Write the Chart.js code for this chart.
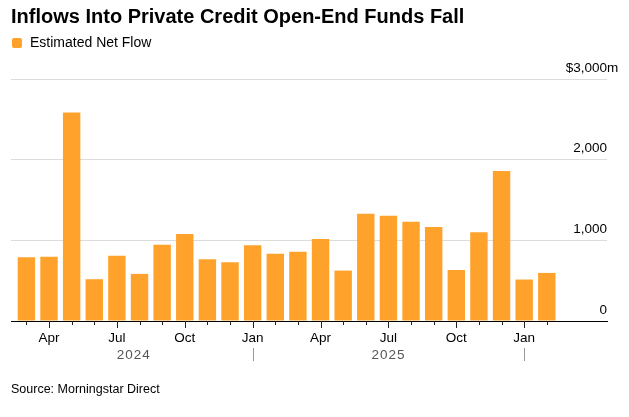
<!DOCTYPE html>
<html>
<head>
<meta charset="utf-8">
<script src="https://cdn.jsdelivr.net/npm/chart.js@4"></script>
<style>
  body { margin: 0; background: #fff; font-family: "Liberation Sans", Arial, sans-serif; }
  #wrap { position: relative; width: 629px; height: 417px; }
  #title { position: absolute; left: 11px; top: 6px; font-size: 20px; line-height: 20px; font-weight: bold; color: #000; white-space: nowrap; }
  #legend { position: absolute; left: 12px; top: 35px; font-size: 14px; line-height: 14px; color: #000; }
  #legend span { display: inline-block; width: 10px; height: 10px; border-radius: 2px; background: #ffa22b; margin-right: 8px; vertical-align: -1px; }
  #source { position: absolute; left: 11px; top: 383px; font-size: 12.5px; line-height: 12.5px; color: #000; }
  canvas { position: absolute; left: 0; top: 0; }
</style>
</head>
<body>
<div id="wrap">
  <canvas id="flowChart" width="629" height="417"></canvas>
  <div id="title">Inflows Into Private Credit Open-End Funds Fall</div>
  <div id="legend"><span></span>Estimated Net Flow</div>
  <div id="source">Source: Morningstar Direct</div>
</div>
<script>
// monthly estimated net flow, $m (Mar 2024 - Feb 2026)
const months = ["2024-03", "2024-04", "2024-05", "2024-06", "2024-07", "2024-08", "2024-09", "2024-10",
  "2024-11", "2024-12", "2025-01", "2025-02", "2025-03", "2025-04", "2025-05", "2025-06", "2025-07",
  "2025-08", "2025-09", "2025-10", "2025-11", "2025-12", "2026-01", "2026-02"];
const netFlow = [790, 797, 2584, 518, 810, 584, 946, 1078, 765, 728, 938, 835,
  860, 1016, 625, 1328, 1304, 1230, 1164, 633, 1099, 1859, 514, 596];
const monthNames = ["Jan", "Feb", "Mar", "Apr", "May", "Jun", "Jul", "Aug", "Sep", "Oct", "Nov", "Dec"];
const labelledMonths = ["Jan", "Apr", "Jul", "Oct"];
const yTicks = [0, 1000, 2000, 3000];

const BAR = "#ffa22b";
const FONT = "Liberation Sans, Arial, sans-serif";

function monthLabel(i) {
    if (i < 0 || i >= months.length || i !== Math.round(i)) return "";
    const name = monthNames[parseInt(months[i].slice(5), 10) - 1];
    return labelledMonths.includes(name) ? name : "";
}

// tick marks, year labels and right-hand value labels
const decor = {
    id: "decor",
    afterDraw(chart) {
        const c = chart.ctx;
        const x = chart.scales.x;
        const y = chart.scales.y;
        const base = chart.chartArea.bottom;
        c.save();

        c.strokeStyle = "#222";
        c.lineWidth = 1;
        months.forEach((m, i) => {
            const px = Math.round(x.getPixelForValue(i)) + 0.5;
            c.beginPath();
            c.moveTo(px, base);
            c.lineTo(px, base + (monthLabel(i) ? 7 : 4));
            c.stroke();
        });

        // years
        const years = [...new Set(months.map(m => m.slice(0, 4)))];
        c.font = "13.5px " + FONT;
        c.letterSpacing = "1px";
        c.fillStyle = "#555";
        c.textAlign = "center";
        c.textBaseline = "alphabetic";
        years.forEach(yr => {
            const idx = months.map((m, i) => m.startsWith(yr) ? i : -1).filter(i => i >= 0);
            const first = idx[0], last = idx[idx.length - 1];
            if (idx.length < 3) return;
            const start = months[first].endsWith("-01") ? first : first - 0.5;
            const end = last + 1 < months.length ? last + 1 : last + 0.5;
            c.fillText(yr, x.getPixelForValue((start + end) / 2), 359);
        });
        c.letterSpacing = "0px";
        c.strokeStyle = "#999";
        months.forEach((m, i) => {
            if (i > 0 && m.endsWith("-01")) {
                const px = Math.round(x.getPixelForValue(i)) + 0.5;
                c.beginPath();
                c.moveTo(px, 348);
                c.lineTo(px, 361);
                c.stroke();
            }
        });

        // value labels above gridlines
        c.fillStyle = "#000";
        c.textBaseline = "middle";
        const right = chart.chartArea.right;
        yTicks.forEach((v, k) => {
            const py = y.getPixelForValue(v) - 11;
            const txt = v.toLocaleString("en-US");
            c.textAlign = "right";
            if (k === yTicks.length - 1) {
                c.fillText("$" + txt, right, py);
                c.textAlign = "left";
                c.fillText("m", right, py);
            } else {
                c.fillText(txt, right, py);
            }
        });
        c.restore();
    }
};

new Chart(document.getElementById("flowChart"), {
    type: "bar",
    data: {
        datasets: [{
            label: "Estimated Net Flow",
            data: netFlow.map((v, i) => ({ x: i, y: v })),
            backgroundColor: BAR,
            barPercentage: 0.77,
            categoryPercentage: 1
        }]
    },
    options: {
        responsive: false,
        animation: false,
        layout: { padding: { left: 11, right: 22, top: 79, bottom: 56 } },
        plugins: { legend: { display: false }, tooltip: { enabled: false } },
        scales: {
            x: {
                type: "linear",
                offset: false,
                min: -0.68,
                max: 25.66,
                afterFit(scale) { scale.height = 40; },
                grid: { display: false, drawTicks: false },
                border: { display: true, color: "#000", width: 1 },
                ticks: {
                    stepSize: 1,
                    autoSkip: false,
                    maxRotation: 0,
                    padding: 9,
                    color: "#000",
                    font: { family: FONT, size: 13.5 },
                    callback: v => monthLabel(v)
                }
            },
            y: {
                position: "right",
                min: 0,
                max: 3000,
                grid: { color: "#dcdcdc", drawTicks: false },
                border: { display: false },
                ticks: { display: false, stepSize: 1000 }
            }
        }
    },
    plugins: [decor]
});
</script>
</body>
</html>
